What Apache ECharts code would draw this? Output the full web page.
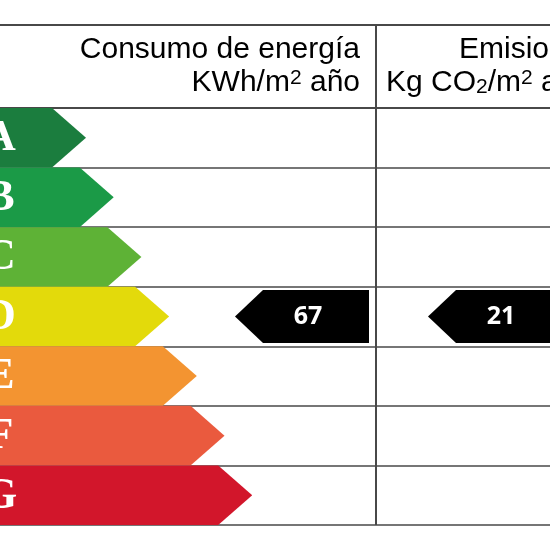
<!DOCTYPE html>
<html><head><meta charset="utf-8">
<script src="https://cdn.jsdelivr.net/npm/echarts@6/dist/echarts.min.js"></script>
<style>html,body{margin:0;padding:0;background:#fff}#c{width:550px;height:550px}</style>
</head><body><div id="c"></div>
<script>
// ---- data ----
const categories = ['A', 'B', 'C', 'D', 'E', 'F', 'G'];
const arrowSteps = [1, 2, 3, 4, 5, 6, 7];
const markerColumns = ['Consumo de energía', 'Emisiones'];
const markerRatings = ['D', 'D'];
const markerValues = [67, 21];

// ---- styles / layout ----
const palette = ['#1b7d3e', '#1b9a47', '#5eb236', '#e3da0b', '#f39431', '#ea5a3e', '#d2162b'];
const markerTipX = [235, 428];
const lineColor = '#484848';
const mainFont = '"Liberation Sans", Arial, sans-serif';

const chart = echarts.init(document.getElementById('c'));

const rich = {
  n: { fontSize: 30, lineHeight: 30, fontFamily: mainFont, color: '#1a1a1a', verticalAlign: 'middle' },
  sup: { fontSize: 21, lineHeight: 21, fontFamily: mainFont, color: '#1a1a1a', verticalAlign: 'top' },
  sub: { fontSize: 21, lineHeight: 16, fontFamily: mainFont, color: '#1a1a1a', verticalAlign: 'bottom' }
};

chart.setOption({
  animation: false,
  grid: { left: 0, right: 0, top: 108, bottom: 25 },
  xAxis: { type: 'value', min: -2.105, max: 17.75, show: false },
  yAxis: {
    type: 'category', data: categories, inverse: true,
    axisLine: { show: false }, axisTick: { show: false }, axisLabel: { show: false },
    splitLine: { show: true, lineStyle: { color: lineColor, width: 1.5 } }
  },
  graphic: [
    { type: 'line', shape: { x1: 0, y1: 25, x2: 550, y2: 25 }, style: { stroke: lineColor, lineWidth: 2 } },
    { type: 'line', shape: { x1: 0, y1: 108, x2: 550, y2: 108 }, style: { stroke: lineColor, lineWidth: 2 } },
    { type: 'line', shape: { x1: 376, y1: 25, x2: 376, y2: 525 }, style: { stroke: lineColor, lineWidth: 2 } },
    { type: 'text', x: 360, y: 50, style: { text: '{n|' + markerColumns[0] + '}', rich: rich, align: 'right', verticalAlign: 'middle' } },
    { type: 'text', x: 360, y: 83, style: { text: '{n|KWh/m}{sup|2}{n| año}', rich: rich, align: 'right', verticalAlign: 'middle' } },
    { type: 'text', x: 459, y: 50, style: { text: '{n|' + markerColumns[1] + '}', rich: rich, align: 'left', verticalAlign: 'middle' } },
    { type: 'text', x: 386, y: 83, style: { text: '{n|Kg CO}{sub|2}{n|/m}{sup|2}{n| año}', rich: rich, align: 'left', verticalAlign: 'middle' } }
  ],
  series: [
    {
      type: 'custom',
      data: categories.map((c, i) => [arrowSteps[i], c]),
      encode: { x: 0, y: 1 },
      renderItem: function (params, api) {
        const idx = params.dataIndex;
        const tip = api.coord([api.value(0), api.value(1)]);
        const h = api.size([0, 1])[1];
        const top = tip[1] - h / 2, bot = tip[1] + h / 2;
        const tipW = 34;
        const x0 = params.coordSys.x - 30;
        return {
          type: 'group',
          children: [
            { type: 'polygon', shape: { points: [[x0, top], [tip[0] - tipW, top], [tip[0], tip[1]], [tip[0] - tipW, bot], [x0, bot]] },
              style: { fill: palette[idx] } },
            { type: 'text', style: { text: categories[idx], x: 0, y: tip[1] + 1, align: 'center', verticalAlign: 'middle',
              fill: '#fff', font: 'bold 44px "Liberation Serif", "DejaVu Serif", serif' } }
          ]
        };
      }
    },
    {
      type: 'custom',
      data: markerRatings.map((r, i) => [i, r, markerValues[i]]),
      encode: { x: 0, y: 1 },
      renderItem: function (params, api) {
        const col = params.dataIndex;
        const cy = api.coord([0, api.value(1)])[1];
        const h = api.size([0, 1])[1];
        const mh = h - 6.5;
        const tx = markerTipX[col];
        const tipW = 28, len = 134;
        return {
          type: 'group',
          children: [
            { type: 'polygon', shape: { points: [[tx, cy], [tx + tipW, cy - mh / 2], [tx + len, cy - mh / 2], [tx + len, cy + mh / 2], [tx + tipW, cy + mh / 2]] },
              style: { fill: '#000' } },
            { type: 'text', style: { text: String(api.value(2)), x: tx + 73, y: cy, align: 'center', verticalAlign: 'middle',
              fill: '#fff', font: 'bold 25px "Open Sans", "DejaVu Sans", sans-serif' } }
          ]
        };
      }
    }
  ]
});
</script>
</body></html>
